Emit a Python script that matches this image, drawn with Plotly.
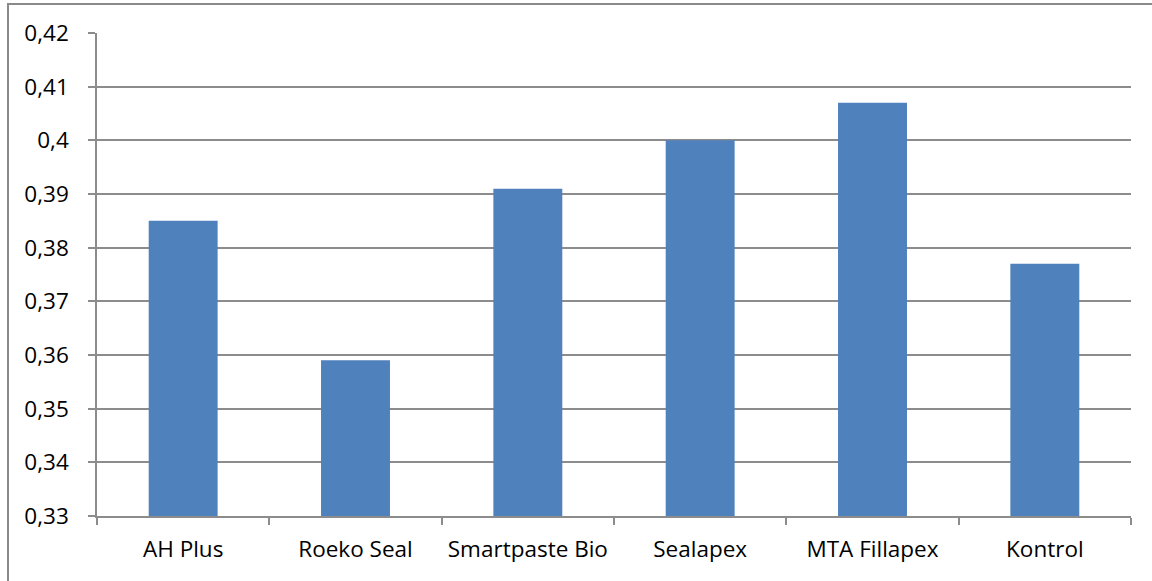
import plotly.graph_objects as go

categories = ["AH Plus", "Roeko Seal", "Smartpaste Bio", "Sealapex", "MTA Fillapex", "Kontrol"]
values = [0.385, 0.359, 0.391, 0.400, 0.407, 0.377]
y_ticks = [0.33, 0.34, 0.35, 0.36, 0.37, 0.38, 0.39, 0.40, 0.41, 0.42]
y_tick_labels = ["0,33", "0,34", "0,35", "0,36", "0,37", "0,38", "0,39", "0,4", "0,41", "0,42"]

W, H = 1152, 581
L, R, T, B = 97, 21, 33, 65
pw, ph = W - L - R, H - T - B

fig = go.Figure(go.Bar(x=categories, y=values, marker=dict(color="#4F81BD", line=dict(width=0))))

grid_c = "#8C8C8C"
fig.update_layout(
    width=W, height=H,
    margin=dict(l=L, r=R, t=T, b=B, pad=0),
    paper_bgcolor="white", plot_bgcolor="white",
    bargap=0.6, showlegend=False,
    font=dict(family="Open Sans", size=21, color="black"),
    xaxis=dict(
        showline=True, linecolor=grid_c, linewidth=1.5,
        ticks="outside", tickson="boundaries", ticklen=7, tickcolor=grid_c, tickwidth=1.5,
        ticklabelstandoff=12,
        showgrid=False, tickfont=dict(size=22.5), fixedrange=True,
    ),
    yaxis=dict(
        range=[0.33, 0.42], tickvals=y_ticks, ticktext=y_tick_labels,
        showline=True, linecolor=grid_c, linewidth=1.5,
        ticks="outside", ticklen=7, tickcolor=grid_c, tickwidth=1.5,
        ticklabelstandoff=15,
        showgrid=True, gridcolor=grid_c, gridwidth=1.5, zeroline=False,
        tickfont=dict(size=22.5), fixedrange=True,
    ),
    shapes=[dict(
        type="rect", xref="paper", yref="paper",
        x0=(8 - L) / pw, x1=(W + 20 - L) / pw,
        y0=(H - T - B - (H + 20 - T)) / ph, y1=(H - B - 4) / ph,
        line=dict(color="#8A8A8A", width=2), fillcolor="rgba(0,0,0,0)", layer="below",
    )],
)

fig.write_html("out.html")
